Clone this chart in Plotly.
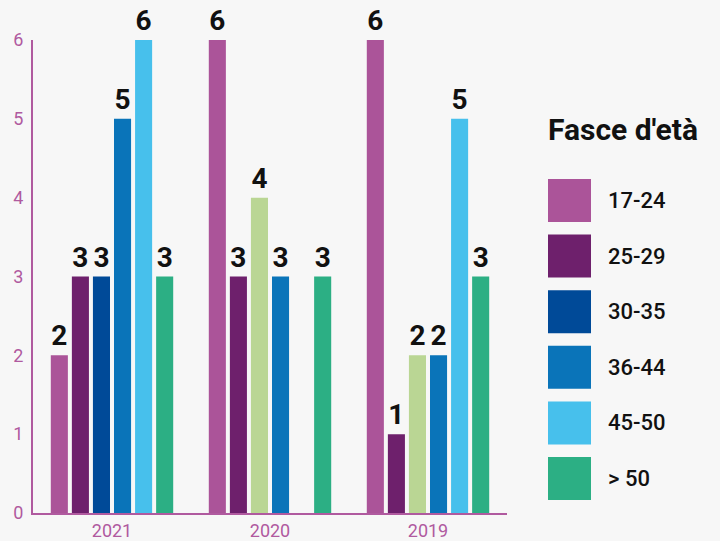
import plotly.graph_objects as go

years = ["2021", "2020", "2019"]
series_names = ["17-24", "25-29", "30-35", "36-44", "45-50", "> 50"]
v_17_24 = [2, 6, 6]
v_25_29 = [3, 3, 1]
v_30_35 = [3, 4, 2]
v_36_44 = [5, 3, 2]
v_45_50 = [6, None, 5]
v_over50 = [3, 3, 3]
series_values = [v_17_24, v_25_29, v_30_35, v_36_44, v_45_50, v_over50]

colors = ["#ab5499", "#6e206c", "#004a98", "#0a74b9", "#47c0ec", "#2caf84"]
# per-bar colours of the 30-35 series as drawn in the reference
colors_30_35 = ["#004a98", "#bad694", "#bad694"]

axis_color = "#b05a9f"
bg = "#f7f7f7"

W, H = 720, 541
ML, MR, MT, MB = 33, 213, 40, 28
PW, PH = W - ML - MR, H - MT - MB

fig = go.Figure()
for i, (name, vals) in enumerate(zip(series_names, series_values)):
    mc = colors_30_35 if name == "30-35" else colors[i]
    fig.add_trace(go.Bar(
        x=years, y=vals, name=name,
        marker=dict(color=mc, line=dict(width=0)),
        text=[("" if v is None else str(v)) for v in vals],
        textposition="outside",
        outsidetextfont=dict(family="Roboto", size=28, color="#111111", weight="bold"),
        cliponaxis=False,
        constraintext="none",
        showlegend=False,
    ))

def px_x(x):
    return (x - ML) / PW
def px_y(y):
    return (H - MB - y) / PH

# custom legend (large swatches like the reference)
leg_x0 = 548
leg_y0 = 200.5
leg_step = 55.6
shapes = []
annotations = []
annotations.append(dict(
    xref="paper", yref="paper", x=px_x(546), y=px_y(129),
    xanchor="left", yanchor="middle", showarrow=False,
    text="<b>Fasce d'età</b>",
    font=dict(family="Roboto", size=30, color="#111111"),
))
for i, name in enumerate(series_names):
    cy = leg_y0 + i * leg_step
    shapes.append(dict(
        type="rect", xref="paper", yref="paper",
        x0=px_x(leg_x0), x1=px_x(leg_x0 + 43),
        y0=px_y(cy + 21.5), y1=px_y(cy - 21.5),
        fillcolor=colors[i], line=dict(width=0),
    ))
    annotations.append(dict(
        xref="paper", yref="paper", x=px_x(606), y=px_y(cy),
        xanchor="left", yanchor="middle", showarrow=False,
        text=name,
        font=dict(family="Roboto", size=22, color="#111111", weight=500),
    ))

fig.update_layout(
    width=W, height=H,
    margin=dict(l=ML, r=MR, t=MT, b=MB, autoexpand=False),
    paper_bgcolor=bg, plot_bgcolor=bg,
    barmode="group", bargap=0.2, bargroupgap=0.19,
    showlegend=False,
    shapes=shapes, annotations=annotations,
    font=dict(family="Roboto"),
)
fig.update_xaxes(
    type="category",
    showline=True, linecolor=axis_color, linewidth=2,
    showgrid=False, ticks="", zeroline=False,
    tickfont=dict(family="Roboto", size=18, color=axis_color),
    ticklabelstandoff=0,
)
fig.update_yaxes(
    range=[0, 6], dtick=1,
    showline=True, linecolor=axis_color, linewidth=2,
    showgrid=False, zeroline=False, ticks="",
    tickfont=dict(family="Roboto", size=18, color=axis_color),
    ticklabelstandoff=4,
)

fig.write_html("out.html",
               config={"displayModeBar": False},
               post_script="document.body.style.margin='0px';document.body.style.background='%s';" % bg)
